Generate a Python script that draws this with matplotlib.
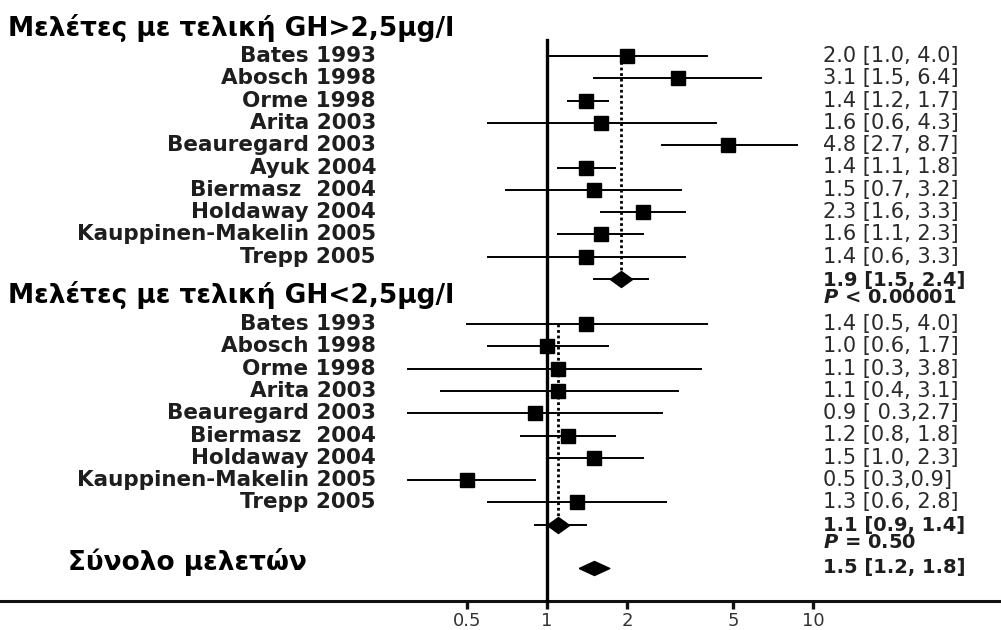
import numpy as np
import matplotlib
matplotlib.use("Agg")
import matplotlib.pyplot as plt
from matplotlib.transforms import blended_transform_factory

# Studies with final GH > 2.5 µg/l
studies_hi = ["Bates 1993", "Abosch 1998", "Orme 1998", "Arita 2003", "Beauregard 2003",
              "Ayuk 2004", "Biermasz  2004", "Holdaway 2004", "Kauppinen-Makelin 2005", "Trepp 2005"]
est_hi = [2.0, 3.1, 1.4, 1.6, 4.8, 1.4, 1.5, 2.3, 1.6, 1.4]
lo_hi = [1.0, 1.5, 1.2, 0.6, 2.7, 1.1, 0.7, 1.6, 1.1, 0.6]
up_hi = [4.0, 6.4, 1.7, 4.3, 8.7, 1.8, 3.2, 3.3, 2.3, 3.3]
labels_hi = ["2.0 [1.0, 4.0]", "3.1 [1.5, 6.4]", "1.4 [1.2, 1.7]", "1.6 [0.6, 4.3]",
             "4.8 [2.7, 8.7]", "1.4 [1.1, 1.8]", "1.5 [0.7, 3.2]", "2.3 [1.6, 3.3]",
             "1.6 [1.1, 2.3]", "1.4 [0.6, 3.3]"]
pooled_hi = (1.9, 1.5, 2.4)
pooled_hi_text = ["1.9 [1.5, 2.4]", "$\\mathbfit{P}$ < 0.00001"]

# Studies with final GH < 2.5 µg/l
studies_lo = ["Bates 1993", "Abosch 1998", "Orme 1998", "Arita 2003", "Beauregard 2003",
              "Biermasz  2004", "Holdaway 2004", "Kauppinen-Makelin 2005", "Trepp 2005"]
est_lo = [1.4, 1.0, 1.1, 1.1, 0.9, 1.2, 1.5, 0.5, 1.3]
lo_lo = [0.5, 0.6, 0.3, 0.4, 0.3, 0.8, 1.0, 0.3, 0.6]
up_lo = [4.0, 1.7, 3.8, 3.1, 2.7, 1.8, 2.3, 0.9, 2.8]
labels_lo = ["1.4 [0.5, 4.0]", "1.0 [0.6, 1.7]", "1.1 [0.3, 3.8]", "1.1 [0.4, 3.1]",
             "0.9 [ 0.3,2.7]", "1.2 [0.8, 1.8]", "1.5 [1.0, 2.3]", "0.5 [0.3,0.9]",
             "1.3 [0.6, 2.8]"]
pooled_lo = (1.1, 0.9, 1.4)
pooled_lo_text = ["1.1 [0.9, 1.4]", "$\\mathbfit{P}$ = 0.50"]

overall = (1.5, 1.2, 1.8)
overall_text = "1.5 [1.2, 1.8]"

xticks = [0.5, 1, 2, 5, 10]
xticklabels = ["0.5", "1", "2", "5", "10"]

header_hi = "Μελέτες με τελική GH>2,5μg/l"
header_lo = "Μελέτες με τελική GH<2,5μg/l"
header_all = "Σύνολο μελετών"

W, H = 1001, 630
fig = plt.figure(figsize=(W / 100, H / 100), dpi=100)
ax = fig.add_axes([0, 0, 1, 1])
ax.set_xscale("log")
px_per_decade = 266.0
x_one = 547.0
ax.set_xlim(10 ** (-x_one / px_per_decade), 10 ** ((W - x_one) / px_per_decade))
ax.set_ylim(H, 0)

for s in ["top", "right", "left"]:
    ax.spines[s].set_visible(False)
ax.spines["bottom"].set_position(("data", 601))
ax.spines["bottom"].set_linewidth(2.2)
ax.spines["bottom"].set_color("#111111")
ax.set_yticks([])
ax.set_xticks(xticks)
ax.set_xticklabels(xticklabels)
ax.minorticks_off()
ax.tick_params(axis="x", direction="out", length=6, width=2.4, color="#111111",
               labelsize=13, labelcolor="#333333", pad=2)
for lab in ax.get_xticklabels():
    lab.set_fontfamily("DejaVu Sans")

ink = "#000000"
txt_col = "#1e1e1e"
val_col = "#2a2a2a"
xa = blended_transform_factory(ax.transAxes, ax.transData)

# summary diamonds: wider than tall
diamond_group = [(-0.5, 0), (0, 0.36), (0.5, 0), (0, -0.36), (-0.5, 0)]
diamond_total = [(-0.5, 0), (0, 0.23), (0.5, 0), (0, -0.23), (-0.5, 0)]

row_h = 22.3
y_hi = [56 + row_h * i for i in range(len(studies_hi))]
y_hi_pool = y_hi[-1] + row_h
y_lo = [324 + row_h * i for i in range(len(studies_lo))]
y_lo_pool = y_lo[-1] + row_h
y_all = 568

label_x = 376 / W
value_x = 823 / W

# line of no effect
ax.plot([1, 1], [40, 601], color=ink, lw=2.4, zorder=3)


def draw_group(names, est, lo, up, labels, ys, pooled, ypool, pool_text):
    for n, e, l, u, t, y in zip(names, est, lo, up, labels, ys):
        ax.plot([l, u], [y, y], color=ink, lw=1.4, zorder=4)
        ax.plot([e], [y], marker="s", ms=10, color=ink, zorder=5)
        ax.text(label_x, y, n, transform=xa, ha="right", va="center",
                fontsize=15.5, fontweight="bold", family="DejaVu Sans", color=txt_col)
        ax.text(value_x, y, t, transform=xa, ha="left", va="center",
                fontsize=15, family="DejaVu Sans", color=val_col)
    pe, pl, pu = pooled
    ax.plot([pe, pe], [ys[0], ypool - 6], color=ink, lw=2, ls=(0, (1, 1)), zorder=3)
    ax.plot([pl, pu], [ypool, ypool], color=ink, lw=1.4, zorder=4)
    ax.plot([pe], [ypool], marker=diamond_group, ms=16, color=ink, zorder=5)
    ax.text(value_x, ypool + 1, pool_text[0], transform=xa, ha="left", va="center",
            fontsize=14, fontweight="bold", family="DejaVu Sans", color=txt_col)
    ax.text(value_x, ypool + 18, pool_text[1], transform=xa, ha="left", va="center",
            fontsize=14, fontweight="bold", family="DejaVu Sans", color=txt_col)


draw_group(studies_hi, est_hi, lo_hi, up_hi, labels_hi, y_hi, pooled_hi, y_hi_pool, pooled_hi_text)
draw_group(studies_lo, est_lo, lo_lo, up_lo, labels_lo, y_lo, pooled_lo, y_lo_pool, pooled_lo_text)

# overall pooled estimate
ax.plot([overall[0]], [y_all], marker=diamond_total, ms=22, color=ink, zorder=5)
ax.text(value_x, y_all, overall_text, transform=xa, ha="left", va="center",
        fontsize=14, fontweight="bold", family="DejaVu Sans", color=txt_col)

# section headers
hdr = dict(transform=xa, ha="left", va="center", fontsize=19, fontweight="bold",
           family="DejaVu Sans", color="#000000")
ax.text(8 / W, 28, header_hi, **hdr)
ax.text(8 / W, 295, header_lo, **hdr)
ax.text(68 / W, 562, header_all, **hdr)

fig.savefig("out.png", dpi=100)
